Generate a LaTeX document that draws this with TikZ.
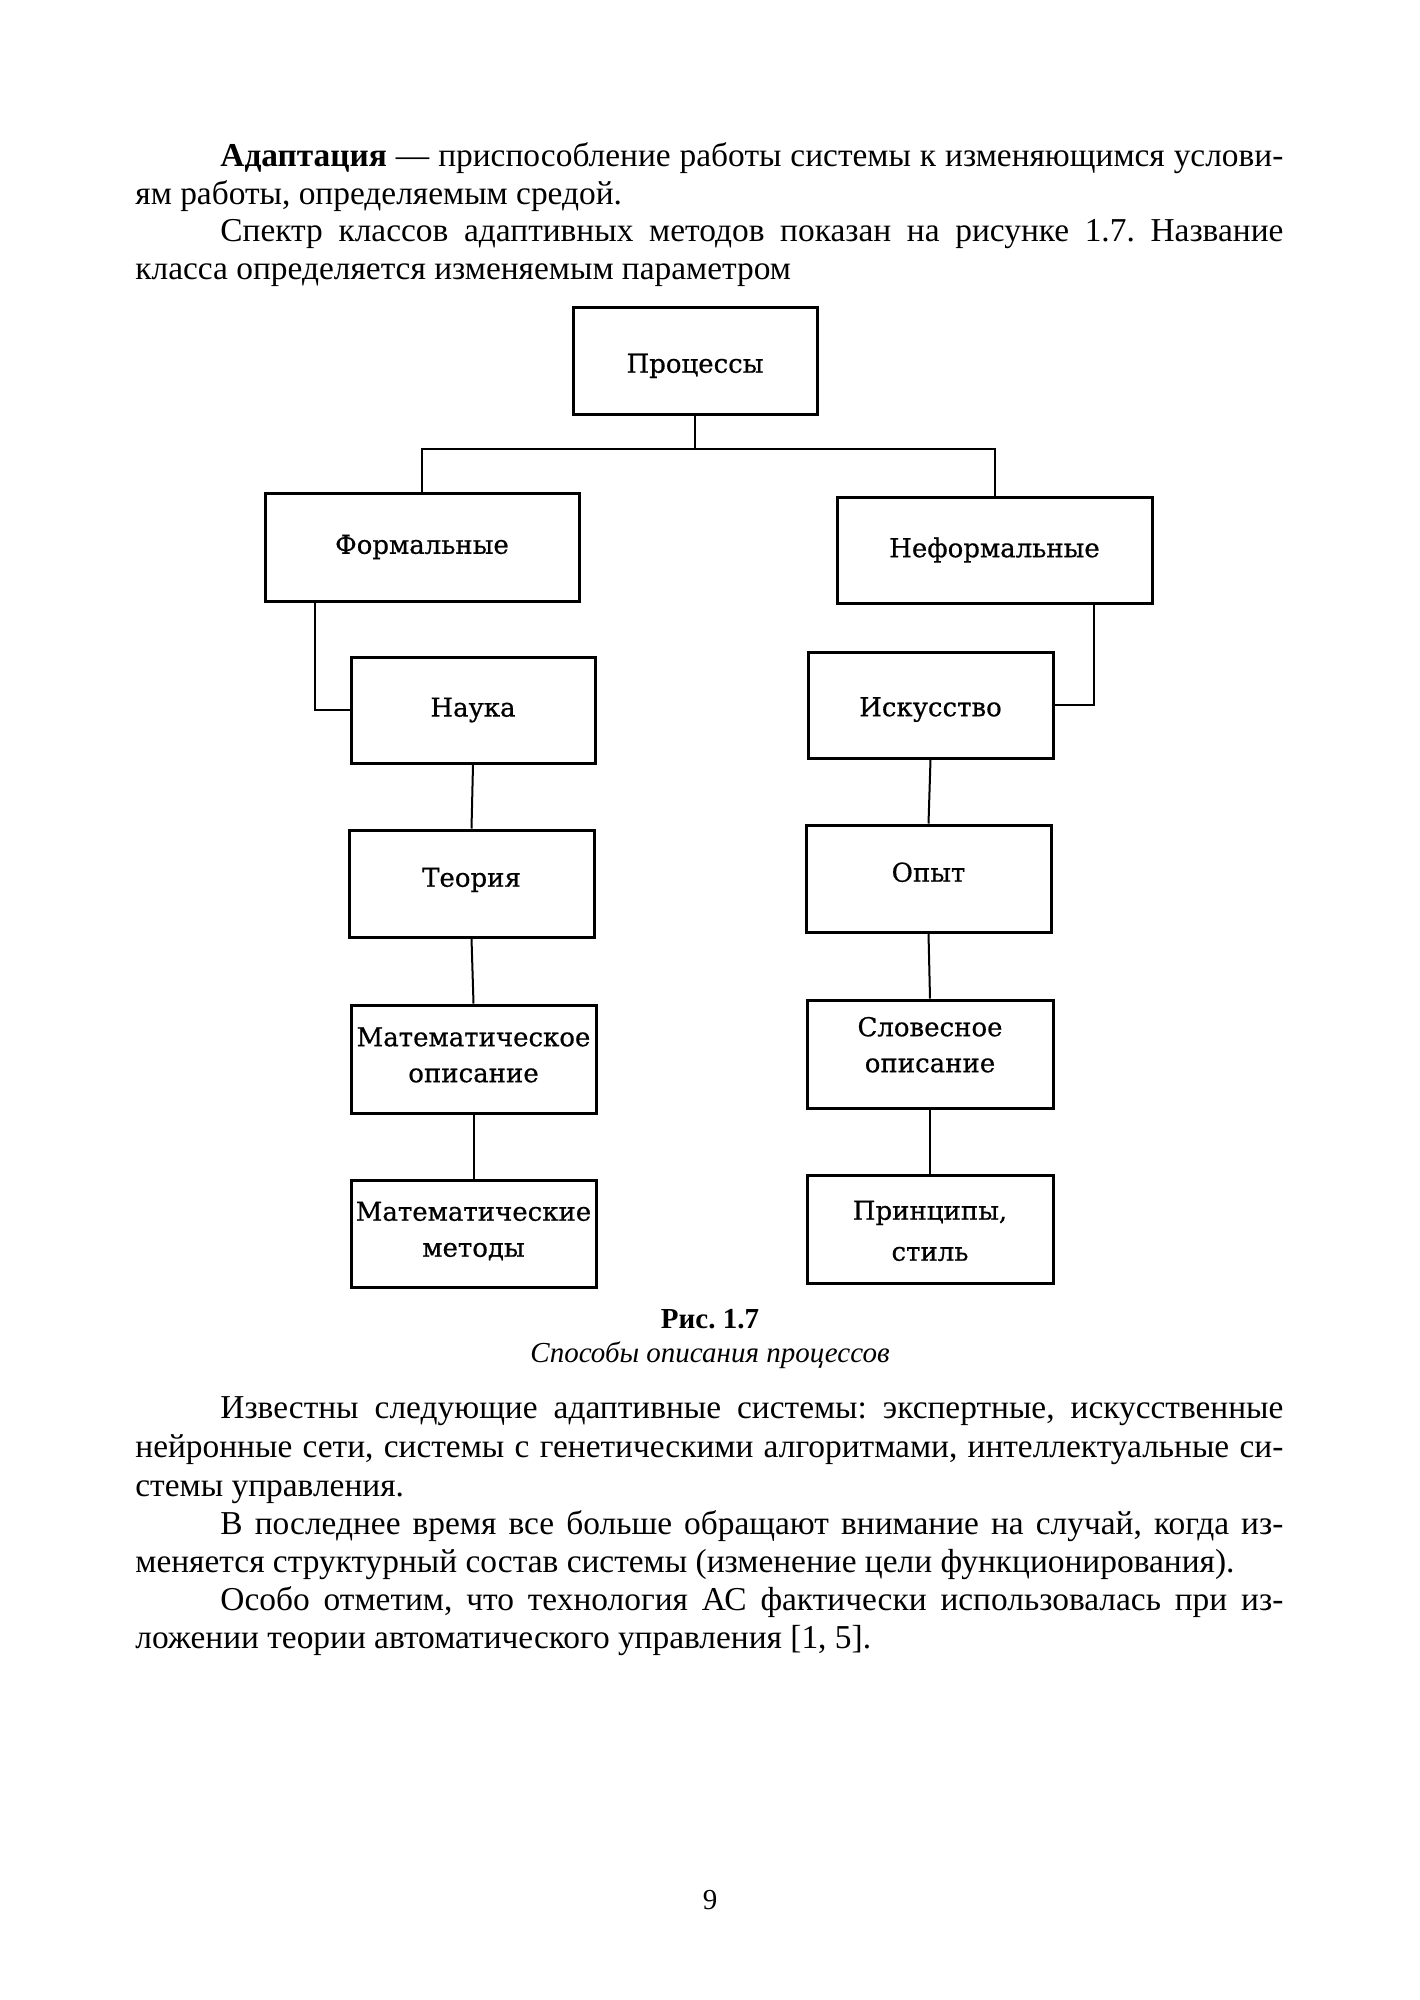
\documentclass[tikz,border=0pt]{standalone}
\usepackage{fontspec}
\setmainfont{Liberation Serif}
\newfontfamily\boxfont[FakeBold=0.6]{DejaVu Serif}
\newcommand{\liftby}[2]{\raisebox{#1}[\height][\depth]{\begin{tabular}{@{}c@{}}#2\end{tabular}}}
\frenchspacing
\begin{document}
\begin{tikzpicture}[x=0.5pt,y=-0.5pt,
  box/.style={draw, line width=1.5pt, rectangle, inner sep=0pt, align=center,
    font=\boxfont\fontsize{13}{18}\selectfont},
  conn/.style={line width=1pt},
  txt/.style={anchor=base west, inner sep=0pt, font=\fontsize{16.7}{20}\selectfont},
  captxt/.style={anchor=base, inner sep=0pt, font=\fontsize{14.5}{19}\selectfont}]
\path[fill=white] (0,0) rectangle (1419,2000);
\useasboundingbox (0,0) rectangle (1419,2000);

% body text, top
\node[txt] (l1) at (220,167) {\makebox[531.5pt][s]{\textbf{Адаптация} — приспособление работы системы к изменяющимся услови-}};
\node[txt] (l2) at (135,205) {ям работы, определяемым средой.};
\node[txt] (l3) at (220,242) {\makebox[531.5pt][s]{Спектр классов адаптивных методов показан на рисунке 1.7. Название}};
\node[txt] (l4) at (135,280) {класса определяется изменяемым параметром};

% boxes
\node[box, minimum width=122pt, minimum height=53.5pt] (proc) at (695,361.5) {\liftby{-2pt}{Процессы}};
\node[box, minimum width=157pt, minimum height=54pt] (form) at (422,547) {Формальные};
\node[box, minimum width=157.5pt, minimum height=53pt] (neform) at (994.5,550) {Неформальные};
\node[box, minimum width=122pt, minimum height=53pt] (nauka) at (473,710) {Наука};
\node[box, minimum width=122.5pt, minimum height=53pt] (isk) at (930.5,705) {\liftby{-2pt}{Искусство}};
\node[box, minimum width=122.5pt, minimum height=53.5pt] (teor) at (471.5,883.5) {\liftby{2pt}{Теория}};
\node[box, minimum width=122.5pt, minimum height=53.5pt] (opyt) at (928.5,878.5) {\liftby{2pt}{Опыт}};
\node[box, minimum width=122.5pt, minimum height=54pt] (matop) at (473.5,1059) {\liftby{1pt}{Математическое\\описание}};
\node[box, minimum width=123pt, minimum height=54pt] (slov) at (930,1054) {\liftby{3.5pt}{Словесное\\описание}};
\node[box, minimum width=122.5pt, minimum height=53.5pt] (matmet) at (473.5,1233.5) {\liftby{1pt}{Математические\\методы}};
\node[box, minimum width=123pt, minimum height=54pt] (princ) at (930,1229) {\liftby{-2pt}{Принципы,\\[2.5pt]стиль}};

% connectors
\coordinate (bus) at (0,449);
\coordinate (fl) at (315,0);
\coordinate (fr) at (1094,0);
\draw[conn] (proc.south) -- (proc.south |- bus);
\draw[conn] (form.north) -- (form.north |- bus) -- (neform.north |- bus) -- (neform.north);
\draw[conn] (fl |- form.south) |- (nauka.west);
\draw[conn] (fr |- neform.south) |- (isk.east);
\draw[conn] (nauka.south) -- (teor.north);
\draw[conn] (teor.south) -- (matop.north);
\draw[conn] (matop.south) -- (matmet.north);
\draw[conn] (isk.south) -- (opyt.north);
\draw[conn] (opyt.south) -- (slov.north);
\draw[conn] (slov.south) -- (princ.north);

% caption
\node[captxt] (fig) at (710,1328) {\textbf{Рис. 1.7}};
\node[captxt] (figt) at (710,1362) {\textit{Способы описания процессов}};

% body text, bottom
\node[txt] (m1) at (220,1418) {\makebox[531.5pt][s]{Известны следующие адаптивные системы: экспертные, искусственные}};
\node[txt] (m2) at (135,1457) {\makebox[574pt][s]{нейронные сети, системы с генетическими алгоритмами, интеллектуальные си-}};
\node[txt] (m3) at (135,1496) {стемы управления.};
\node[txt] (m4) at (220,1534) {\makebox[531.5pt][s]{В последнее время все больше обращают внимание на случай, когда из-}};
\node[txt] (m5) at (135,1572) {меняется структурный состав системы (изменение цели функционирования).};
\node[txt] (m6) at (220,1610) {\makebox[531.5pt][s]{Особо отметим, что технология АС фактически использовалась при из-}};
\node[txt] (m7) at (135,1648) {ложении теории автоматического управления [1, 5].};

% page number
\node[captxt] (pg) at (710,1909) {9};
\end{tikzpicture}
\end{document}
